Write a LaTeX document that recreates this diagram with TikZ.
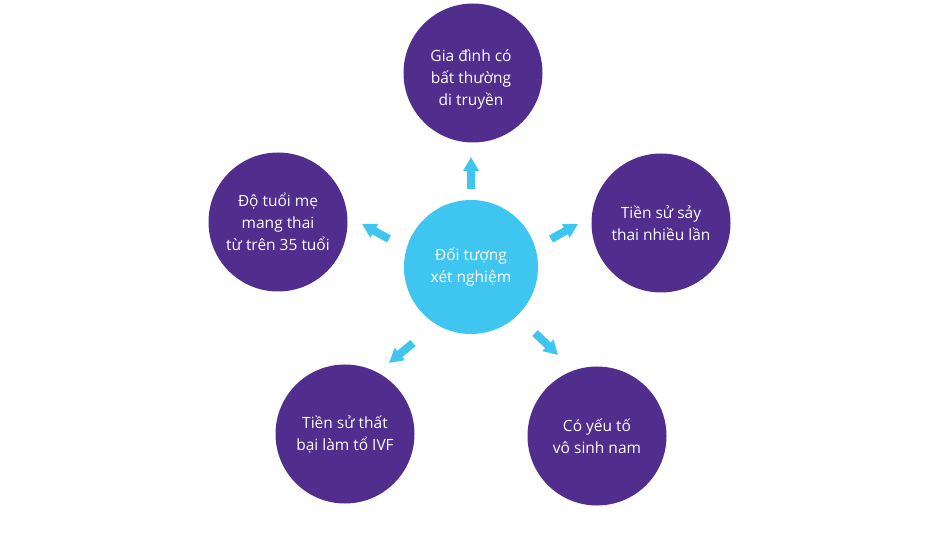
\documentclass[tikz,border=0pt]{standalone}
\usepackage{fontspec}
\setmainfont{Open Sans}
\usetikzlibrary{arrows.meta}
\definecolor{purp}{RGB}{81,45,141}
\definecolor{cyanc}{RGB}{62,198,240}
\tikzset{
  lbl/.style={text=white,align=center,font=\fontsize{15.5pt}{22pt}\selectfont},
  outer/.style={circle,fill=purp,minimum size=139pt,inner sep=0pt,lbl},
  inner/.style={circle,fill=cyanc,minimum size=134pt,inner sep=0pt,lbl},
  blockarrow/.style={draw=cyanc,line width=8pt,-{Triangle[width=15pt,length=14pt]}}
}
\begin{document}
\begin{tikzpicture}[x=1pt,y=-1pt]
\useasboundingbox (0,0) rectangle (932,534);
\node[inner] (c) at (471,267) {Đối tượng\\xét nghiệm};
\node[outer] (t) at (473,73) {};
\node[lbl] (tt) at (471,79) {Gia đình có\\bất thường\\di truyền};
\node[outer] (l) at (278,222) {Độ tuổi mẹ\\mang thai\\từ trên 35 tuổi};
\node[outer] (r) at (661,223) {Tiền sử sảy\\thai nhiều lần};
\node[outer] (bl) at (345,434) {Tiền sử thất\\bại làm tổ IVF};
\node[outer] (br) at (597,436) {Có yếu tố\\vô sinh nam};
\coordinate (t0) at (471,189); \coordinate (t1) at (471,157);
\coordinate (l0) at (389,239); \coordinate (l1) at (362,224);
\coordinate (r0) at (551,239); \coordinate (r1) at (578,224);
\coordinate (bl0) at (413,343); \coordinate (bl1) at (389,363);
\coordinate (br0) at (535,333); \coordinate (br1) at (558,355);
\draw[blockarrow] (t0) -- (t1);
\draw[blockarrow] (l0) -- (l1);
\draw[blockarrow] (r0) -- (r1);
\draw[blockarrow] (bl0) -- (bl1);
\draw[blockarrow] (br0) -- (br1);
\end{tikzpicture}
\end{document}
